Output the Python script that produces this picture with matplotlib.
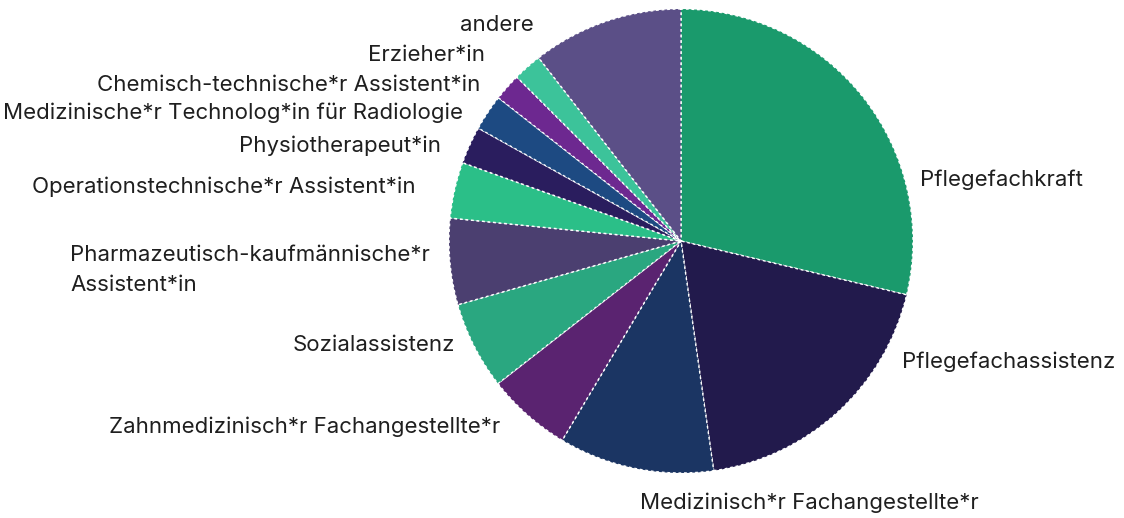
import matplotlib.pyplot as plt

# shares in %, clockwise from 12 o'clock
categories = [
    "Pflegefachkraft",
    "Pflegefachassistenz",
    "Medizinisch*r Fachangestellte*r",
    "Zahnmedizinisch*r Fachangestellte*r",
    "Sozialassistenz",
    "Pharmazeutisch-kaufmännische*r\nAssistent*in",
    "Operationstechnische*r Assistent*in",
    "Physiotherapeut*in",
    "Medizinische*r Technolog*in für Radiologie",
    "Chemisch-technische*r Assistent*in",
    "Erzieher*in",
    "andere",
]
shares = [28.7, 19.0, 10.8, 5.9, 6.1, 6.0, 3.9, 2.6, 2.5, 1.9, 2.0, 10.5]
colors = ["#1a9a6c", "#221a4c", "#1b3563", "#5a2370", "#2aa780", "#4b3f70",
          "#2bbf88", "#2a1d5e", "#1d4a82", "#6d2890", "#3cc39a", "#5b4f87"]

# label anchors in pixel coords (x, y from top, ha)
label_pos = [
    (920, 180, "left"),
    (902, 362, "left"),
    (640, 503, "left"),
    (500, 427, "right"),
    (455, 345, "right"),
    (70, 270, "left"),
    (416, 187, "right"),
    (441, 146, "right"),
    (463, 113, "right"),
    (480, 85, "right"),
    (485, 55, "right"),
    (534, 25, "right"),
]

W, H = 1124, 518
fig = plt.figure(figsize=(W / 100, H / 100), dpi=100)
ax = fig.add_axes([0, 0, 1, 1])

wedges, _ = ax.pie(shares, colors=colors, startangle=90, counterclock=False,
                   center=(681, H - 241), radius=232, frame=True,
                   wedgeprops=dict(edgecolor="white", linewidth=1.0,
                                   linestyle=(0, (2, 2))))
ax.set_xlim(0, W)
ax.set_ylim(0, H)
ax.set_aspect("equal")
ax.axis("off")

for (x, y, ha), lab in zip(label_pos, categories):
    ax.text(x, H - y, lab, ha=ha, va="center", fontsize=16,
            family="Inter", color="#1f1f1f", linespacing=1.6)

fig.savefig("out.png", dpi=100, facecolor="white")
